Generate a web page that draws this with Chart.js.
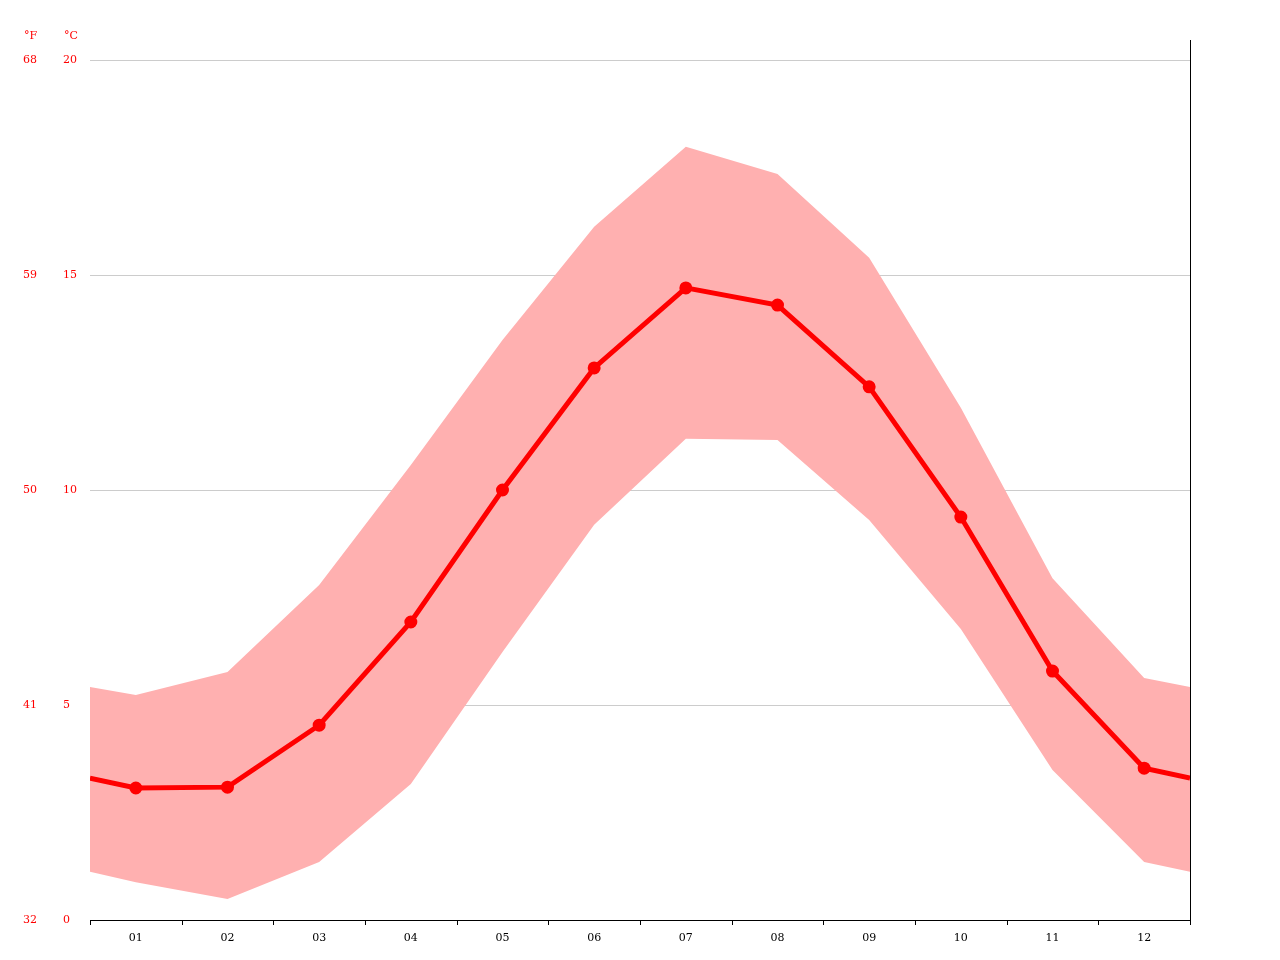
<!DOCTYPE html>
<html>
<head>
<meta charset="utf-8">
<script src="https://cdn.jsdelivr.net/npm/chart.js@4/dist/chart.umd.min.js"></script>
<style>
  html, body { margin: 0; padding: 0; background: #fff; }
  #wrap { width: 1280px; height: 960px; }
</style>
</head>
<body>
<div id="wrap"><canvas id="climate-chart"></canvas></div>
<script>
// months, plus the half-month edges the chart runs out to
var months = ['01', '02', '03', '04', '05', '06', '07', '08', '09', '10', '11', '12'];
var xPos = [0.5, 1, 2, 3, 4, 5, 6, 7, 8, 9, 10, 11, 12, 12.5];

// temperatures in °C (edge, 01..12, edge)
var tempMean = [3.30, 3.07, 3.09, 4.53, 6.93, 10.0, 12.84, 14.70, 14.30, 12.40, 9.37, 5.79, 3.53, 3.30];
var tempMax  = [5.42, 5.23, 5.77, 7.79, 10.58, 13.49, 16.12, 17.98, 17.35, 15.40, 11.91, 7.95, 5.63, 5.42];
var tempMin  = [1.12, 0.88, 0.49, 1.35, 3.16, 6.23, 9.19, 11.19, 11.16, 9.30, 6.77, 3.49, 1.35, 1.12];

var celsiusTicks = [0, 5, 10, 15, 20];
var fahrenheitTicks = [32, 41, 50, 59, 68];

function pts(arr) {
    return arr.map(function (v, i) { return { x: xPos[i], y: v }; });
}

var labelFont = { family: 'DejaVu Serif', size: 11 };

// tick marks at month boundaries, right border line, unit titles
var decorPlugin = {
    id: 'decor',
    afterDraw: function (chart) {
        var c = chart.ctx, a = chart.chartArea, xs = chart.scales.x;
        c.save();
        c.strokeStyle = '#000';
        c.lineWidth = 1;
        c.beginPath();
        c.moveTo(a.left, a.bottom + 0.5);
        c.lineTo(a.right, a.bottom + 0.5);
        c.moveTo(a.right + 0.5, 40);
        c.lineTo(a.right + 0.5, a.bottom);
        for (var i = 0; i <= 12; i++) {
            var px = Math.round(xs.getPixelForValue(i + 0.5)) + 0.5;
            c.moveTo(px, a.bottom);
            c.lineTo(px, a.bottom + 5);
        }
        c.stroke();
        c.fillStyle = '#ff0000';
        c.font = '11px "DejaVu Serif"';
        c.fillText('°F', 24, 39);
        c.fillText('°C', 64, 39);
        c.restore();
    }
};

var chartData = {
    datasets: [{
        label: 'max',
        data: pts(tempMax),
        yAxisID: 'y',
        borderWidth: 0,
        pointRadius: 0,
        backgroundColor: 'rgba(255, 176, 176, 1)',
        fill: '+1',
        order: 2
    }, {
        label: 'min',
        data: pts(tempMin),
        yAxisID: 'y',
        borderWidth: 0,
        pointRadius: 0,
        fill: false,
        order: 2
    }, {
        label: 'mean',
        data: pts(tempMean),
        yAxisID: 'y',
        borderColor: '#ff0000',
        backgroundColor: '#ff0000',
        borderWidth: 5,
        pointRadius: xPos.map(function (x) { return Number.isInteger(x) ? 4 : 0; }),
        fill: false,
        order: 1
    }]
};

var chartOptions = {
    responsive: true,
    maintainAspectRatio: false,
    animation: false,
    layout: { padding: { top: 60, right: 90, bottom: 0, left: 23 } },
    plugins: { legend: { display: false }, tooltip: { enabled: false } },
    scales: {
        x: {
            type: 'linear',
            min: 0.5,
            max: 12.5,
            grid: { display: false },
            border: { display: false },
            afterBuildTicks: function (s) { s.ticks = months.map(function (m, i) { return { value: i + 1 }; }); },
            afterFit: function (s) { s.height = 40; },
            ticks: {
                color: '#000',
                font: labelFont,
                padding: 4,
                callback: function (v) { return months[v - 1]; }
            }
        },
        y: {
            position: 'left',
            min: 0,
            max: 20,
            grid: { color: '#cccccc', drawTicks: false },
            border: { display: false },
            afterBuildTicks: function (s) { s.ticks = celsiusTicks.map(function (v) { return { value: v }; }); },
            afterFit: function (s) { s.width = 27; },
            ticks: { color: '#ff0000', font: labelFont, crossAlign: 'far', padding: 0 }
        },
        yF: {
            position: 'left',
            min: 32,
            max: 68,
            grid: { display: false },
            border: { display: false },
            afterBuildTicks: function (s) { s.ticks = fahrenheitTicks.map(function (v) { return { value: v }; }); },
            afterFit: function (s) { s.width = 40; },
            ticks: { color: '#ff0000', font: labelFont, crossAlign: 'far', padding: 0 }
        }
    }
};

var ctx = document.getElementById('climate-chart');
var climateChart = new Chart(ctx, {
    type: 'line',
    data: chartData,
    options: chartOptions,
    plugins: [decorPlugin]
});
</script>
</body>
</html>
